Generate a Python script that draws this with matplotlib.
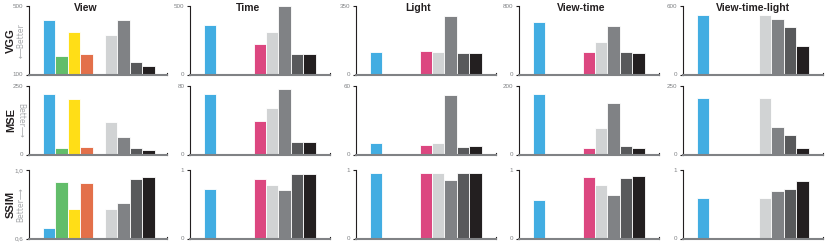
import numpy as np
import matplotlib
matplotlib.use('Agg')
import matplotlib.pyplot as plt

plt.rcParams['font.family'] = ['Liberation Sans', 'DejaVu Sans']

# Columns / rows
columns = ['View', 'Time', 'Light', 'View-time', 'View-time-light']
metrics = ['VGG', 'MSE', 'SSIM']

# 9 method slots per panel (0 = method not shown in that panel)
slot_colors = ['#42ADE2', '#62BD6A', '#FFDE17', '#E3704A', '#DC4780',
               '#D1D3D4', '#808285', '#58595B', '#231F20']

# VGG
vgg_view = [421, 207, 348, 222, 0, 329, 421, 172, 148]
vgg_time = [359, 0, 0, 0, 223, 310, 498, 146, 146]
vgg_light = [114, 0, 0, 0, 119, 117, 301, 110, 112]
vgg_viewtime = [614, 0, 0, 0, 262, 383, 568, 267, 250]
vgg_viewtimelight = [519, 0, 0, 0, 0, 519, 490, 417, 247]

# MSE
mse_view = [221, 24, 204, 28, 0, 118, 64, 24, 18]
mse_time = [70.7, 0, 0, 0, 39, 54, 76, 14.7, 14.7]
mse_light = [9.9, 0, 0, 0, 7.9, 9.9, 52, 7, 7.3]
mse_viewtime = [176, 0, 0, 0, 20, 78, 150, 26, 20]
mse_viewtimelight = [208, 0, 0, 0, 0, 205, 100, 70, 23]

# SSIM
ssim_view = [0.662, 0.932, 0.771, 0.923, 0, 0.771, 0.808, 0.946, 0.957]
ssim_time = [0.726, 0, 0, 0, 0.873, 0.785, 0.712, 0.941, 0.946]
ssim_light = [0.952, 0, 0, 0, 0.957, 0.952, 0.854, 0.957, 0.957]
ssim_viewtime = [0.561, 0, 0, 0, 0.897, 0.78, 0.634, 0.887, 0.907]
ssim_viewtimelight = [0.588, 0, 0, 0, 0, 0.597, 0.694, 0.723, 0.835]

# axis ranges and tick labels
vgg_ylims = [(100, 500), (0, 500), (0, 350), (0, 800), (0, 600)]
mse_ylims = [(0, 250), (0, 80), (0, 60), (0, 200), (0, 250)]
ssim_ylims = [(0.6, 1.0), (0, 1), (0, 1), (0, 1), (0, 1)]
vgg_ticklabels = [['100', '500'], ['0', '500'], ['0', '350'], ['0', '800'], ['0', '600']]
mse_ticklabels = [['0', '250'], ['0', '80'], ['0', '60'], ['0', '200'], ['0', '250']]
ssim_ticklabels = [['0,6', '1,0'], ['0', '1'], ['0', '1'], ['0', '1'], ['0', '1']]

data = [
    [vgg_view, vgg_time, vgg_light, vgg_viewtime, vgg_viewtimelight],
    [mse_view, mse_time, mse_light, mse_viewtime, mse_viewtimelight],
    [ssim_view, ssim_time, ssim_light, ssim_viewtime, ssim_viewtimelight],
]
ylims = [vgg_ylims, mse_ylims, ssim_ylims]
ticklabels = [vgg_ticklabels, mse_ticklabels, ssim_ticklabels]

W, H = 830, 244
fig = plt.figure(figsize=(W / 100, H / 100), dpi=100)

col_left = [29, 190, 356, 519, 683]
col_width = [138, 140, 140, 140, 140]
row_top = [6, 86, 170]
row_h = 68.5
title_x = [86, 248, 418, 581, 753]

x = np.arange(9)
for r in range(3):
    for c in range(5):
        ax = fig.add_axes([col_left[c] / W, 1 - (row_top[r] + row_h) / H,
                           col_width[c] / W, row_h / H])
        ax.bar(x, data[r][c], width=1.0, color=slot_colors,
               edgecolor='white', linewidth=0.6)
        lo, hi = ylims[r][c]
        xr = -1.63 + col_width[c] / 12.4
        ax.set_ylim(lo, hi)
        ax.set_xlim(-1.63, xr)
        # small end mark on the baseline
        ax.plot([xr, xr], [lo, lo + 0.025 * (hi - lo)], color='#231F20',
                lw=0.8, clip_on=False)
        ax.set_yticks([lo, hi])
        ax.set_yticklabels(ticklabels[r][c])
        ax.set_xticks([])
        ax.tick_params(axis='y', length=2.5, width=0.8, pad=1.5,
                       labelsize=4.5, labelcolor='#808285', color='#231F20')
        ax.spines['top'].set_visible(False)
        ax.spines['right'].set_visible(False)
        ax.spines['left'].set_color('#231F20')
        ax.spines['left'].set_linewidth(0.8)
        ax.spines['bottom'].set_color('#808285')
        ax.spines['bottom'].set_linewidth(1.5)
        ax.patch.set_alpha(0)
        if r == 0:
            fig.text(title_x[c] / W, 1 - 8 / H, columns[c], ha='center', va='center',
                     fontsize=7.5, fontweight='bold', color='#231F20')

# row labels
row_mid = [row_top[i] + row_h / 2 for i in range(3)]
for i, m in enumerate(metrics):
    fig.text(11 / W, 1 - row_mid[i] / H, m, rotation=90, ha='center', va='center',
             fontsize=8, fontweight='bold', color='#231F20')

fig.text(21 / W, 1 - row_mid[0] / H, '\u27f5Better', rotation=90, ha='center',
         va='center', fontsize=5.5, color='#A7A9AC', family=['DejaVu Sans'])
fig.text(21 / W, 1 - row_mid[1] / H, 'Better\u27f6', rotation=270, ha='center',
         va='center', fontsize=5.5, color='#A7A9AC', family=['DejaVu Sans'])
fig.text(21 / W, 1 - row_mid[2] / H, 'Better\u27f6', rotation=90, ha='center',
         va='center', fontsize=5.5, color='#A7A9AC', family=['DejaVu Sans'])

fig.savefig('out.png', dpi=100)
